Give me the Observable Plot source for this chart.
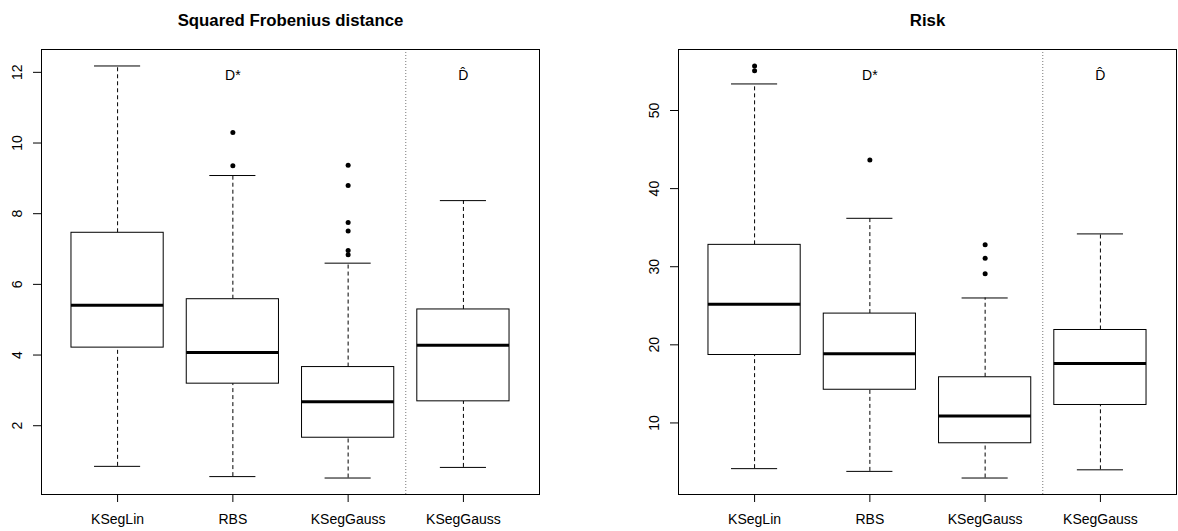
<!DOCTYPE html>
<html><head><meta charset="utf-8">
<script src="https://cdn.jsdelivr.net/npm/d3@7"></script>
<script src="https://cdn.jsdelivr.net/npm/@observablehq/plot@0.6"></script>
<style>
body{margin:0;background:#fff;}
#wrap{display:flex;width:1178px;height:531px;}
</style></head><body><div id="wrap"></div>
<script>
const categories = ["KSegLin", "RBS", "KSegGauss", "KSegGauss"];
const positions = [1, 2, 3, 4];

// Panel 1: Squared Frobenius distance
const froLow  = [0.85, 0.56, 0.52, 0.82];
const froQ1   = [4.21, 3.19, 1.66, 2.69];
const froMed  = [5.41, 4.07, 2.68, 4.28];
const froQ3   = [7.46, 5.58, 3.66, 5.29];
const froHigh = [12.18, 9.08, 6.60, 8.37];
const froOutliers = [[], [10.30, 9.36], [9.37, 8.80, 7.75, 7.51, 6.96, 6.84], []];
const froTicks = [2, 4, 6, 8, 10, 12];

// Panel 2: Risk
const riskLow  = [4.15, 3.8, 2.95, 4.0];
const riskQ1   = [18.7, 14.25, 7.4, 12.3];
const riskMed  = [25.2, 18.85, 10.9, 17.6];
const riskQ3   = [32.8, 24.0, 15.85, 21.9];
const riskHigh = [53.4, 36.2, 26.0, 34.2];
const riskOutliers = [[55.7, 55.1], [43.65], [32.8, 31.1, 29.1], []];
const riskTicks = [10, 20, 30, 40, 50];

const titles = ["Squared Frobenius distance", "Risk"];
const font = "'Liberation Sans', Arial, Helvetica, sans-serif";

function panel({title, low, q1, med, q3, high, outliers, ticks, marginLeft, marginRight}) {
  const boxes = categories.map((c, i) => ({pos: positions[i], low: low[i], q1: q1[i], med: med[i], q3: q3[i], high: high[i]}));
  const outs = outliers.flatMap((arr, i) => arr.map(v => ({pos: positions[i], v})));
  const all = [...low, ...high, ...outs.map(d => d.v)];
  const mn = d3.min(all), mx = d3.max(all), pad = (mx - mn) * 0.04;
  const hw = 0.4, sw = 0.2;
  const xlo = 0.5 - 0.04 * 4, xhi = 4.5 + 0.04 * 4;
  return Plot.plot({
    width: 589, height: 531,
    marginTop: 49, marginBottom: 37, marginLeft, marginRight,
    style: {fontFamily: font, fontSize: "14px", color: "black", background: "white", overflow: "visible"},
    x: {domain: [xlo, xhi], axis: null},
    y: {domain: [mn - pad, mx + pad], axis: null},
    marks: [
      Plot.ruleX([3.5], {stroke: "#777", strokeDasharray: "1,2"}),
      Plot.ruleX(boxes, {x: "pos", y1: "q3", y2: "high", stroke: "black", strokeDasharray: "4,3"}),
      Plot.ruleX(boxes, {x: "pos", y1: "low", y2: "q1", stroke: "black", strokeDasharray: "4,3"}),
      Plot.ruleY(boxes, {y: "high", x1: d => d.pos - sw, x2: d => d.pos + sw, stroke: "black"}),
      Plot.ruleY(boxes, {y: "low", x1: d => d.pos - sw, x2: d => d.pos + sw, stroke: "black"}),
      Plot.rect(boxes, {x1: d => d.pos - hw, x2: d => d.pos + hw, y1: "q1", y2: "q3", fill: "white", stroke: "black"}),
      Plot.ruleY(boxes, {y: "med", x1: d => d.pos - hw, x2: d => d.pos + hw, stroke: "black", strokeWidth: 3}),
      Plot.dot(outs, {x: "pos", y: "v", r: 2.5, fill: "black", stroke: null}),
      Plot.frame({stroke: "black"}),
      Plot.axisY({ticks, tickSize: 8, tickRotate: -90, tickPadding: 12, fontSize: 14, label: null}),
      Plot.axisX({ticks: positions, tickFormat: d => categories[d - 1], tickSize: 8, tickPadding: 12, fontSize: 14, label: null}),
      Plot.text([title], {frameAnchor: "top", dy: -35.5, fontWeight: "bold", fontSize: 16.8}),
      Plot.text([{pos: 2, t: "D*"}], {x: "pos", text: "t", frameAnchor: "top", dy: 21, fontSize: 14}),
      Plot.text([{pos: 4, t: "D\u0302"}], {x: "pos", text: "t", frameAnchor: "top", dy: 21, fontSize: 14})
    ]
  });
}

const wrap = document.getElementById("wrap");
wrap.append(panel({title: titles[0], low: froLow, q1: froQ1, med: froMed, q3: froQ3, high: froHigh, outliers: froOutliers, ticks: froTicks, marginLeft: 41, marginRight: 50}));
wrap.append(panel({title: titles[1], low: riskLow, q1: riskQ1, med: riskMed, q3: riskQ3, high: riskHigh, outliers: riskOutliers, ticks: riskTicks, marginLeft: 89, marginRight: 2}));
</script></body></html>
